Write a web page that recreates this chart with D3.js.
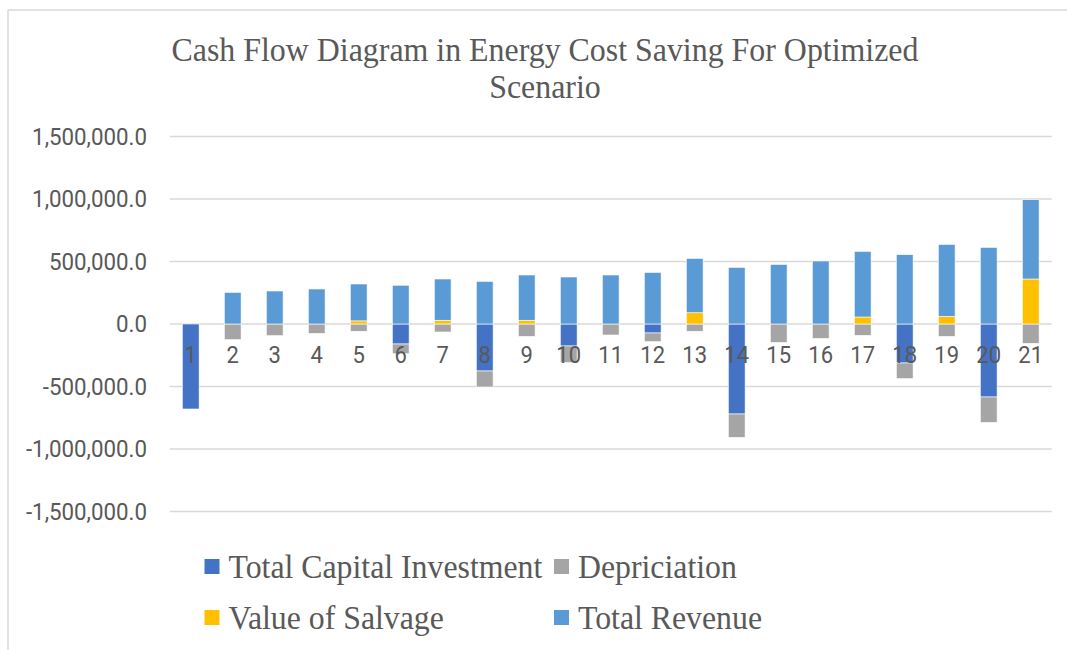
<!DOCTYPE html>
<html>
<head>
<meta charset="utf-8">
<script src="https://cdn.jsdelivr.net/npm/d3@7"></script>
<style>
  body { margin: 0; background: #fff; }
</style>
</head>
<body>
<svg width="1067" height="650"></svg>
<script>
// chart data
let years = ['1', '2', '3', '4', '5', '6', '7', '8', '9', '10', '11', '12', '13', '14', '15', '16', '17', '18', '19', '20', '21'];
let capitalInvestment = [-680000, 0, 0, 0, 0, -160000, 0, -376000, 0, -176000, 0, -72000, 0, -720000, 0, 0, 0, -312000, 0, -584000, 0];
let depreciation = [0, -125000, -93000, -75000, -58000, -78000, -64000, -128000, -99000, -133000, -88000, -69000, -58000, -187000, -147000, -115000, -91000, -125000, -99000, -203000, -155000];
let salvage = [0, 0, 0, 0, 25000, 0, 30000, 0, 30000, 0, 0, 0, 90000, 0, 0, 0, 56000, 0, 61000, 0, 360000];
let revenue = [0, 253000, 264000, 280000, 295000, 310000, 330000, 341000, 362000, 376000, 392000, 413000, 435000, 453000, 477000, 504000, 525000, 555000, 576000, 613000, 635000];
let yTicks = [-1500000, -1000000, -500000, 0, 500000, 1000000, 1500000];

let seriesNames = ['Total Capital Investment', 'Depriciation', 'Value of Salvage', 'Total Revenue'];
let seriesColors = ['#4472C4', '#A5A5A5', '#FFC000', '#5B9BD5'];

let svg = d3.select('svg');

let plot = { l: 169.7, r: 1051.7, t: 136.5, b: 511.5 };
let textColor = '#595959';
let gridColor = '#d9d9d9';
let axisStretch = 1.05;  // axis text is a touch taller than wide
let serifStretch = 1.08; // title and legend

// frame (only top and left edge show)
svg.append('line')
    .attr('x1', 8).attr('y1', 10).attr('x2', 1067).attr('y2', 10)
    .attr('stroke', gridColor).attr('stroke-width', 1.5);
svg.append('line')
    .attr('x1', 8).attr('y1', 10).attr('x2', 8).attr('y2', 650)
    .attr('stroke', gridColor).attr('stroke-width', 1.5);

// build rows for stacking
let rows = years.map((y, i) => ({
    year: y,
    capital: capitalInvestment[i],
    dep: depreciation[i],
    salvage: salvage[i],
    revenue: revenue[i]
}));
let keys = ['capital', 'dep', 'salvage', 'revenue'];

let stacked = d3.stack()
    .keys(keys)
    .offset(d3.stackOffsetDiverging)(rows);

let xScale = d3.scaleBand()
    .domain(years)
    .range([plot.l, plot.r])
    .paddingInner(0.6)
    .paddingOuter(0.3);

let yScale = d3.scaleLinear()
    .domain([-1500000, 1500000])
    .range([plot.b, plot.t]);

// gridlines
svg.append('g')
    .selectAll('line').data(yTicks).enter().append('line')
    .attr('x1', plot.l).attr('x2', plot.r)
    .attr('y1', d => yScale(d)).attr('y2', d => yScale(d))
    .attr('stroke', gridColor)
    .attr('stroke-width', 1.5);

// y labels, plain hyphen for the minus
let fmt = d3.format(',.1f');
svg.append('g')
    .selectAll('text').data(yTicks).enter().append('text')
    .attr('transform', d => 'translate(147,' + (yScale(d) + 8) + ') scale(1,' + axisStretch + ')')
    .attr('text-anchor', 'end')
    .attr('font-family', 'Roboto, sans-serif')
    .attr('font-size', '22.3px')
    .attr('fill', textColor)
    .text(d => fmt(d).replace('\u2212', '-'));

// bars
let barG = svg.append('g');
stacked.forEach((layer, k) => {
    barG.append('g')
        .attr('fill', seriesColors[k])
        .selectAll('rect').data(layer).enter().append('rect')
        .attr('x', d => xScale(d.data.year))
        .attr('width', xScale.bandwidth())
        .attr('y', d => yScale(Math.max(d[0], d[1])))
        .attr('height', d => Math.abs(yScale(d[0]) - yScale(d[1])))
        .attr('stroke', '#fff')
        .attr('stroke-width', 0.6);
});

// category labels sit on top of bars
svg.append('g')
    .selectAll('text').data(years).enter().append('text')
    .attr('transform', d => 'translate(' + (xScale(d) + xScale.bandwidth() / 2) + ',' + 362.5 + ') scale(1,' + axisStretch + ')')
    .attr('text-anchor', 'middle')
    .attr('font-family', 'Roboto, sans-serif')
    .attr('font-size', '22px')
    .attr('fill', textColor)
    .text(d => d);

// title
let titleLines = ['Cash Flow Diagram in Energy Cost Saving For Optimized', 'Scenario'];
svg.append('g')
    .selectAll('text').data(titleLines).enter().append('text')
    .attr('transform', (d, i) => 'translate(545,' + (61 + i * 37) + ') scale(1,' + serifStretch + ')')
    .attr('text-anchor', 'middle')
    .attr('font-family', '"Liberation Serif", "Times New Roman", serif')
    .attr('font-size', '31.9px')
    .attr('fill', textColor)
    .text(d => d);

// legend, two columns
let legendPos = [[204.5, 559], [554, 559], [204.5, 610], [554, 610]];
let legend = svg.append('g')
    .selectAll('g').data(seriesNames).enter().append('g')
    .attr('transform', (d, i) => 'translate(' + legendPos[i][0] + ',' + legendPos[i][1] + ')');

legend.append('rect')
    .attr('width', 15)
    .attr('height', 15)
    .attr('fill', (d, i) => seriesColors[i]);

legend.append('text')
    .attr('transform', 'translate(24,19) scale(1,' + serifStretch + ')')
    .attr('font-family', '"Liberation Serif", "Times New Roman", serif')
    .attr('font-size', '31.8px')
    .attr('fill', textColor)
    .text(d => d);
</script>
</body>
</html>
